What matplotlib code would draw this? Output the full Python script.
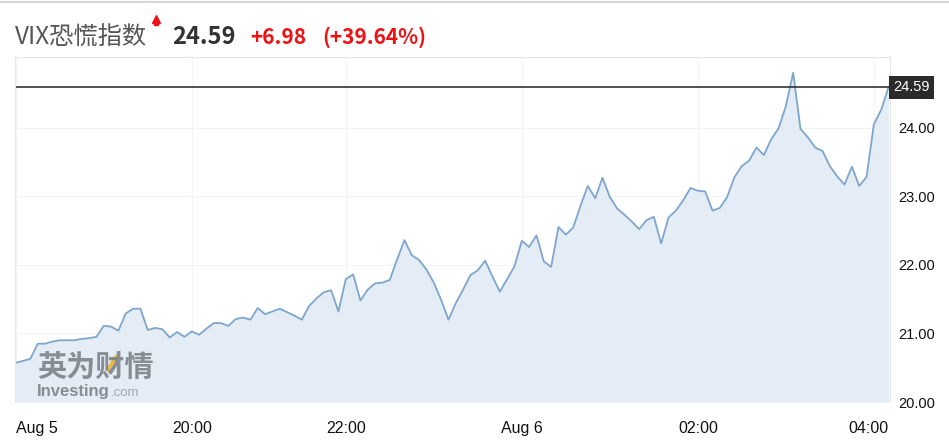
import matplotlib
matplotlib.use("Agg")
import matplotlib.pyplot as plt
import matplotlib.transforms as mtransforms
import numpy as np

# VIX, 5-minute points (ordinal axis, gaps removed like the source chart)
vix = [20.57, 20.60, 20.63, 20.85, 20.85, 20.88, 20.90, 20.90, 20.90, 20.92,
       20.93, 20.95, 21.11, 21.10, 21.04, 21.29, 21.36, 21.36, 21.05, 21.08,
       21.06, 20.94, 21.02, 20.95, 21.03, 20.98, 21.07, 21.15, 21.15, 21.11,
       21.21, 21.23, 21.20, 21.37, 21.28, 21.32, 21.36, 21.31, 21.26, 21.20,
       21.40, 21.51, 21.60, 21.63, 21.32, 21.79, 21.86, 21.48, 21.64, 21.73,
       21.74, 21.78, 22.08, 22.36, 22.14, 22.07, 21.93, 21.74, 21.49, 21.20,
       21.44, 21.64, 21.85, 21.92, 22.06, 21.83, 21.61, 21.79, 21.98, 22.35,
       22.26, 22.43, 22.05, 21.97, 22.55, 22.44, 22.54, 22.86, 23.15, 22.97,
       23.27, 22.99, 22.82, 22.73, 22.63, 22.52, 22.65, 22.70, 22.31, 22.69,
       22.79, 22.94, 23.12, 23.08, 23.07, 22.79, 22.83, 22.99, 23.28, 23.44,
       23.52, 23.71, 23.60, 23.83, 23.99, 24.31, 24.80, 23.98, 23.86, 23.71,
       23.66, 23.44, 23.29, 23.17, 23.43, 23.15, 23.28, 24.05, 24.26, 24.59]

tick_idx = [0, 24, 45, 69, 93, 117]
tick_labels = ["Aug 5", "20:00", "22:00", "Aug 6", "02:00", "04:00"]
y_ticks = [20, 21, 22, 23, 24]

last = 24.59
change = "+6.98"
change_pct = "(+39.64%)"

idx = np.arange(len(vix))

fig = plt.figure(figsize=(9.49, 4.46), dpi=100)
ax = fig.add_axes([15/949, 44/446, 875/949, 345/446])

ax.fill_between(idx, vix, 20, color="#e4edf5", lw=0)
ax.plot(idx, vix, color="#7ea6cd", lw=1.3)
ax.axhline(last, color="#333333", lw=1.2)

ax.set_xlim(-0.1, 119.2)
ax.set_ylim(20, 25.03)

ax.set_yticks(y_ticks)
ax.set_yticklabels(["%.2f" % v for v in y_ticks])
ax.yaxis.tick_right()
ax.set_xticks(tick_idx)
# last label is pushed inside the plot edge, drawn separately below
ax.set_xticklabels(tick_labels[:-1] + [""])
ax.tick_params(axis="y", length=0, pad=6, labelsize=10.5, labelcolor="#111111")
ax.tick_params(axis="x", length=0, pad=14, labelsize=11.5, labelcolor="#111111")
for lab in ax.get_xticklabels() + ax.get_yticklabels():
    lab.set_fontfamily("Liberation Sans")
ax.get_xticklabels()[0].set_ha("left")

trx = mtransforms.blended_transform_factory(ax.transData, ax.transAxes)
off = mtransforms.offset_copy(trx, fig=fig, y=-14, units="points")
ax.text(119.0, 0, tick_labels[-1], transform=off, ha="right", va="top",
        fontsize=11.5, color="#111111", family="Liberation Sans")

ax.grid(True, color="#f3f3f3", lw=0.8)
ax.set_axisbelow(True)
for s in ["top", "left", "right"]:
    ax.spines[s].set_color("#e6e6e6")
ax.spines["bottom"].set_visible(False)

# last price box on the right
tr = mtransforms.blended_transform_factory(ax.transAxes, ax.transData)
ax.text(1.004, last, "%.2f" % last, transform=tr, ha="left", va="center",
        fontsize=10.5, color="white", family="Liberation Sans",
        bbox=dict(boxstyle="square,pad=0.3", fc="#2b2b2b", ec="none"))

# watermark
ax.text(0.025, 0.076, "英为财情", transform=ax.transAxes, fontsize=21,
        fontweight="heavy", color="#7d838a", family="Noto Sans CJK SC", alpha=0.9)
ax.plot([0.105, 0.117], [0.09, 0.135], transform=ax.transAxes,
        color="#f2b632", lw=3, solid_capstyle="butt", alpha=0.9)
ax.text(0.025, 0.018, "Investing", transform=ax.transAxes, fontsize=12,
        fontweight="bold", color="#7d838a", family="Liberation Sans", alpha=0.9)
ax.text(0.109, 0.018, ".com", transform=ax.transAxes, fontsize=9.5,
        color="#9aa0a6", family="Liberation Sans", alpha=0.9)

# header
fig.add_artist(plt.Line2D([0, 1], [1 - 1.5/446, 1 - 1.5/446], color="#cfcfcf", lw=1.2))
fig.text(15/949, 1 - 37/446, "VIX恐慌指数", fontsize=17.5, color="#555555",
         family=["Noto Sans CJK SC", "DejaVu Sans"], va="center")
# small red up-arrow
fig.add_artist(plt.Line2D([156/949], [1 - 19/446], marker="^", ms=6,
                          color="#e8141a", lw=0))
fig.add_artist(plt.Line2D([156/949], [1 - 23/446], marker="s", ms=2.5,
                          color="#e8141a", lw=0))
fig.text(172/949, 1 - 37/446, "%.2f" % last, fontsize=17, color="#333333",
         fontweight="bold", family="Noto Sans CJK SC", va="center")
fig.text(250/949, 1 - 37/446, change, fontsize=15, color="#ee1111",
         fontweight="bold", family="Noto Sans CJK SC", va="center")
fig.text(322/949, 1 - 37/446, change_pct, fontsize=15, color="#ee1111",
         fontweight="bold", family="Noto Sans CJK SC", va="center")

fig.savefig("out.png", dpi=100)
